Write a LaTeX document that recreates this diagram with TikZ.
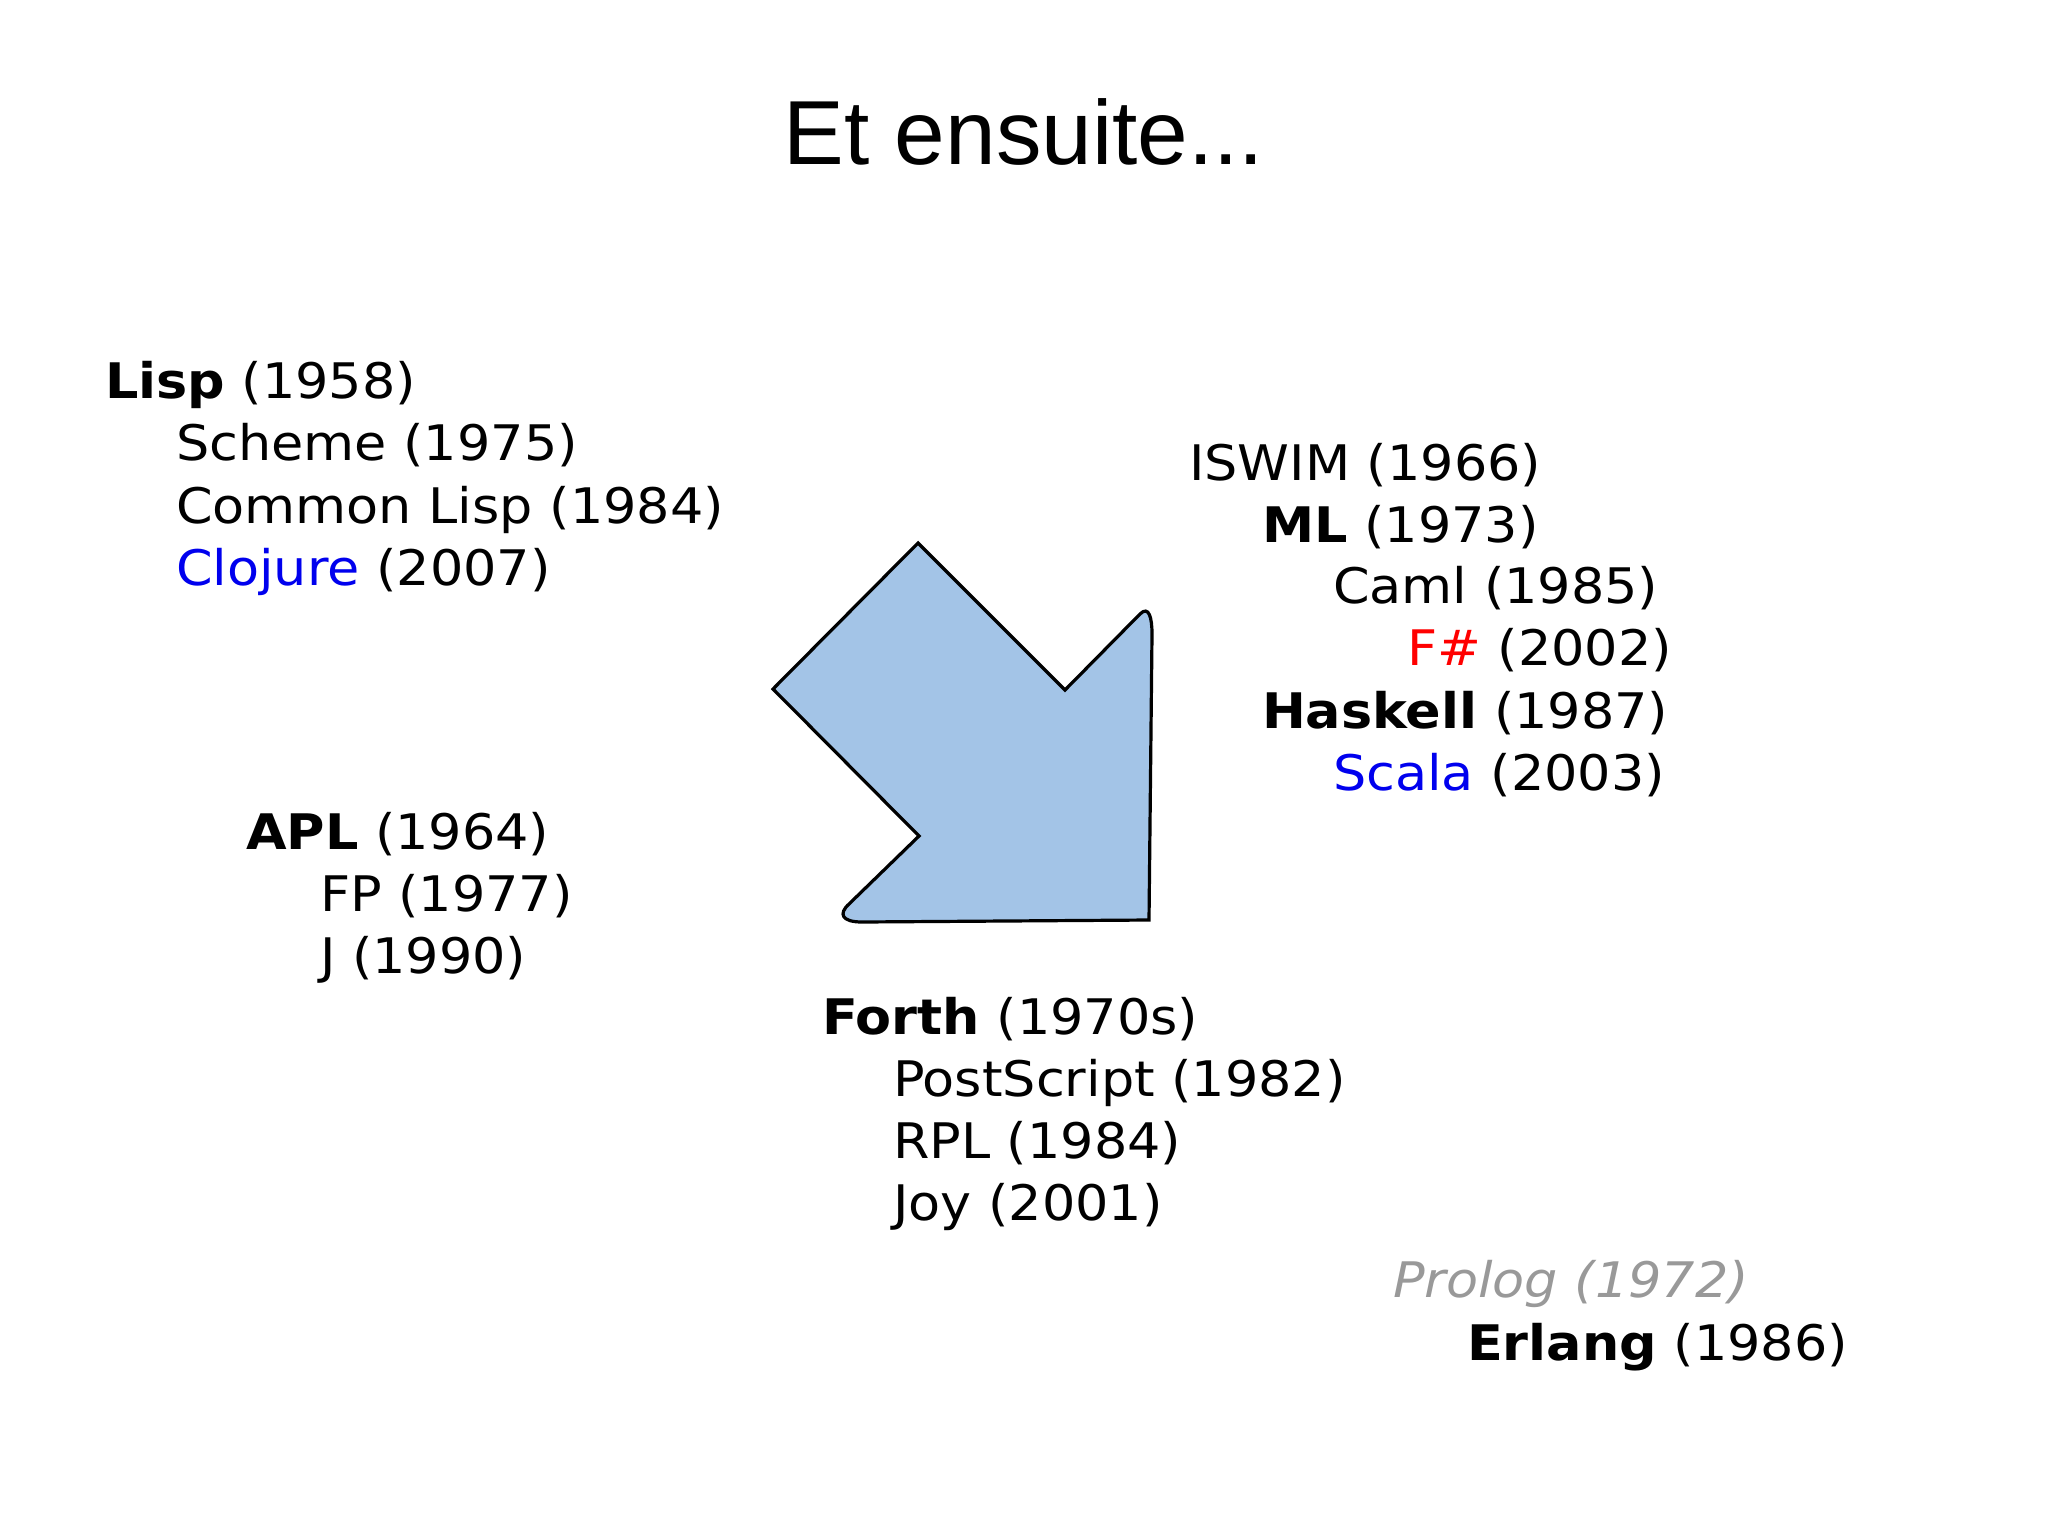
\documentclass[tikz,border=0pt]{standalone}
\usepackage{fontspec}
\setmainfont{DejaVu Sans}[FakeStretch=1.07]
\newfontfamily\titlefont{Liberation Sans}
\definecolor{arrowfill}{HTML}{A3C4E7}
\definecolor{langblue}{HTML}{0000EE}
\definecolor{langred}{HTML}{FF0000}
\definecolor{langgray}{HTML}{999999}
\begin{document}
\begin{tikzpicture}[x=0.5pt,y=-0.5pt,
  lbl/.style={anchor=base west,inner sep=0pt,outer sep=0pt,font=\fontsize{24.5pt}{30pt}\selectfont},
  ttl/.style={anchor=base,inner sep=0pt,font=\titlefont\fontsize{45.5pt}{54pt}\selectfont},
  bigarrow/.style={fill=arrowfill,draw=black,line width=1.6pt,line join=miter}]
\useasboundingbox[fill=white] (0,0) rectangle (2048,1536);

\node[ttl] (title) at (1024,164) {Et ensuite...};

% arrow
\draw[bigarrow] (918,543) -- (1065,690) -- (1140,614)
  .. controls (1149,605) and (1152,618) .. (1152,634)
  -- (1149,920) -- (862,922)
  .. controls (842,922) and (838,914) .. (849,904)
  -- (919,836) -- (773,689) -- cycle;

% Lisp group
\node[lbl] (lisp) at (105,398) {\textbf{Lisp} (1958)};
\node[lbl] (scheme) at (176,460.5) {Scheme (1975)};
\node[lbl] (clisp) at (176,523) {Common Lisp (1984)};
\node[lbl] (clojure) at (176,585.5) {\textcolor{langblue}{Clojure} (2007)};

% APL group
\node[lbl] (apl) at (246,849) {\textbf{APL} (1964)};
\node[lbl] (fp) at (320,911) {FP (1977)};
\node[lbl] (j) at (320,973) {J (1990)};

% ML group
\node[lbl] (iswim) at (1189,480) {ISWIM (1966)};
\node[lbl] (ml) at (1262,542) {\textbf{ML} (1973)};
\node[lbl] (caml) at (1333,603.5) {Caml (1985)};
\node[lbl] (fsharp) at (1407,665.5) {\textcolor{langred}{F\#} (2002)};
\node[lbl] (haskell) at (1262,728) {\textbf{Haskell} (1987)};
\node[lbl] (scala) at (1333,790) {\textcolor{langblue}{Scala} (2003)};

% Forth group
\node[lbl] (forth) at (822,1034) {\textbf{Forth} (1970s)};
\node[lbl] (postscript) at (893,1096) {PostScript (1982)};
\node[lbl] (rpl) at (893,1158) {RPL (1984)};
\node[lbl] (joy) at (893,1220) {Joy (2001)};

% Prolog / Erlang
\node[lbl,text=langgray] (prolog) at (1393,1297) {\itshape Prolog (1972)};
\node[lbl] (erlang) at (1467,1360) {\textbf{Erlang} (1986)};
\end{tikzpicture}
\end{document}
